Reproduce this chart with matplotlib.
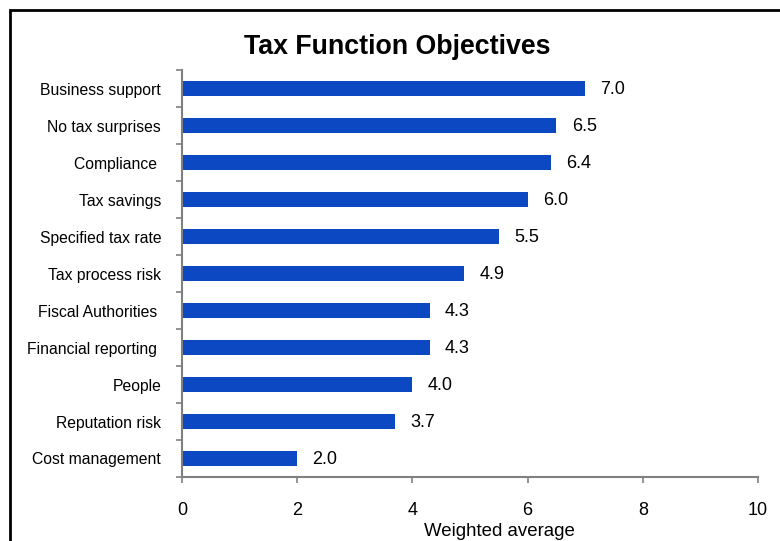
import matplotlib.pyplot as plt
from matplotlib.patches import Rectangle
from matplotlib.ticker import FixedLocator

plt.rcParams['font.family'] = ['Liberation Sans', 'DejaVu Sans']

categories = ['Business support', 'No tax surprises', 'Compliance ', 'Tax savings',
              'Specified tax rate', 'Tax process risk', 'Fiscal Authorities ',
              'Financial reporting ', 'People', 'Reputation risk', 'Cost management']
scores = [7.0, 6.5, 6.4, 6.0, 5.5, 4.9, 4.3, 4.3, 4.0, 3.7, 2.0]
x_ticks = [0, 2, 4, 6, 8, 10]

bar_color = '#0B48C2'
axis_color = '#808080'

fig = plt.figure(figsize=(7.8, 5.41), dpi=100)
ax = fig.add_axes([0.2333, 0.1183, 0.7385, 0.7523])

# top category first
pos = list(range(len(categories)))[::-1]
ax.barh(pos, scores, height=0.4, color=bar_color)
for p, v in zip(pos, scores):
    ax.annotate(f'{v:.1f}', (v, p), xytext=(11, -1), textcoords='offset points',
                va='center', ha='left', fontsize=13)

ax.set_xlim(0, 10)
ax.set_ylim(-0.5, len(categories) - 0.5)
ax.set_xticks(x_ticks)
ax.set_yticks(pos)
ax.set_yticklabels(categories, fontsize=11.3)
ax.yaxis.set_minor_locator(FixedLocator([p - 0.5 for p in range(len(categories) + 1)]))

ax.tick_params(axis='y', which='major', length=0, pad=15)
ax.tick_params(axis='y', which='minor', length=4, color=axis_color, width=1.2)
ax.tick_params(axis='x', length=4, color=axis_color, width=1.2, pad=14, labelsize=13)

for s in ['top', 'right']:
    ax.spines[s].set_visible(False)
for s in ['left', 'bottom']:
    ax.spines[s].set_color(axis_color)
    ax.spines[s].set_linewidth(1.5)

ax.set_xlabel('Weighted average', fontsize=13.4, labelpad=3)
ax.xaxis.set_label_coords(0.551, -0.113)

fig.text(0.509, 0.914, 'Tax Function Objectives', ha='center', va='center',
         fontsize=19.3, fontweight='bold')

# frame around the chart, running off the right and bottom edges
fig.add_artist(Rectangle((10 / 780, -0.05), 1.2, 1 - 10 / 541 + 0.05,
                         transform=fig.transFigure, fill=False,
                         edgecolor='black', linewidth=2, clip_on=False))

fig.savefig('out.png', dpi=100)
